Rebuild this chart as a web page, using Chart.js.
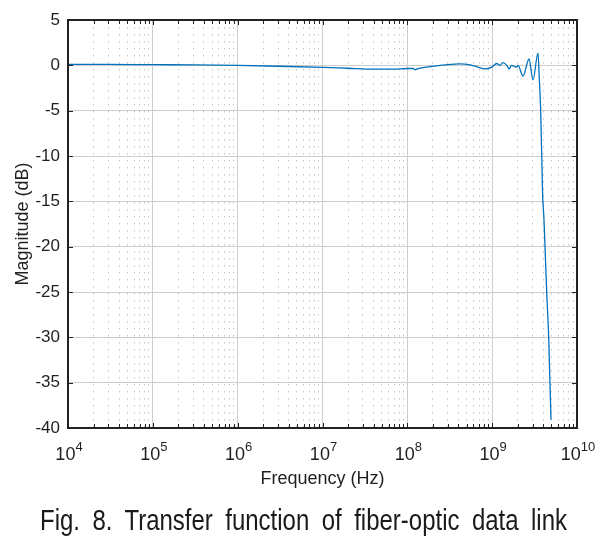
<!DOCTYPE html>
<html><head><meta charset="utf-8">
<script src="https://cdn.jsdelivr.net/npm/chart.js@4"></script>
<style>
html,body{margin:0;padding:0;background:#fff;}
#wrap{position:relative;width:605px;height:549px;overflow:hidden;}
#c{position:absolute;left:0;top:0;}
#cap{position:absolute;left:40px;top:503px;white-space:nowrap;font-family:"Liberation Sans",Arial,sans-serif;font-size:29px;line-height:34px;color:#1a1a1a;word-spacing:7px;transform-origin:0 0;}
</style></head><body>
<div id="wrap"><canvas id="c" width="605" height="549"></canvas><span id="cap">Fig. 8. Transfer function of fiber-optic data link</span></div>
<script>
const freqHz = [1e4, 3e4, 1e5, 3e5, 1e6, 3e6, 1e7, 2e7, 4e7, 7e7, 1.0e8, 1.17e8, 1.23e8, 1.34e8, 1.85e8, 2.78e8, 4.18e8, 5.48e8, 6.8e8, 8.24e8, 9.89e8, 1.13e9, 1.24e9, 1.33e9, 1.49e9, 1.58e9, 1.70e9, 1.81e9, 1.95e9, 2.02e9, 2.31e9, 2.72e9, 3.03e9, 3.47e9, 3.60e9, 3.73e9, 3.84e9, 3.94e9, 4.01e9, 4.08e9, 4.20e9, 4.40e9, 4.65e9, 4.81e9, 4.94e9];
const magDb = [0.1, 0.1, 0.07, 0.05, 0.0, -0.1, -0.22, -0.32, -0.42, -0.42, -0.35, -0.35, -0.5, -0.35, -0.15, 0.05, 0.17, 0.05, -0.2, -0.4, -0.2, 0.2, 0.0, 0.3, 0.0, -0.4, 0.0, -0.1, -0.2, 0.0, -1.2, 0.7, -1.6, 1.35, -1.6, -4.9, -10, -14.5, -15.8, -17, -20.1, -25.1, -30.3, -35.4, -39.1];
const xMajorTicks = [1e4, 1e5, 1e6, 1e7, 1e8, 1e9, 1e10];
const xTickBase = '10';
const xTickExp = ['4', '5', '6', '7', '8', '9', '10'];
const yTicks = [5, 0, -5, -10, -15, -20, -25, -30, -35, -40];
const xTitle = 'Frequency (Hz)';
const yTitle = 'Magnitude (dB)';

// all decade ticks 1..9 x 10^n
const xAllTicks = [];
for (let d = 0; d < xMajorTicks.length - 1; d++) {
  for (let k = 1; k <= 9; k++) xAllTicks.push({value: xMajorTicks[d] * k, major: k === 1});
}
xAllTicks.push({value: xMajorTicks[xMajorTicks.length - 1], major: true});

const textColor = '#1f1f1f';
const fontFam = '"Liberation Sans", Arial, sans-serif';

const boxPlugin = {
  id: 'box',
  afterDraw(chart) {
    const {ctx, chartArea: a, scales} = chart;
    ctx.save();
    ctx.strokeStyle = '#222';
    ctx.lineWidth = 1;
    ctx.beginPath();
    scales.x.ticks.forEach(t => {
      const px = Math.round(scales.x.getPixelForValue(t.value)) + 0.5;
      const len = t.major ? 5 : 4;
      ctx.moveTo(px, a.bottom); ctx.lineTo(px, a.bottom - len);
      ctx.moveTo(px, a.top); ctx.lineTo(px, a.top + len);
    });
    scales.y.ticks.forEach(t => {
      const py = Math.round(scales.y.getPixelForValue(t.value)) + 0.5;
      ctx.moveTo(a.left, py); ctx.lineTo(a.left + 5, py);
      ctx.moveTo(a.right, py); ctx.lineTo(a.right - 5, py);
    });
    ctx.stroke();
    ctx.lineWidth = 2;
    ctx.strokeRect(a.left, a.top, a.right - a.left, a.bottom - a.top);

    // x tick labels as base + raised exponent
    ctx.fillStyle = textColor;
    ctx.textBaseline = 'alphabetic';
    ctx.textAlign = 'left';
    const baseFont = '18px ' + fontFam;
    const expFont = '13px ' + fontFam;
    xMajorTicks.forEach((v, i) => {
      const px = scales.x.getPixelForValue(v);
      ctx.font = baseFont;
      const w1 = ctx.measureText(xTickBase).width;
      ctx.font = expFont;
      const w2 = ctx.measureText(xTickExp[i]).width;
      const x0 = px - (w1 + w2) / 2 + 1;
      ctx.font = baseFont;
      ctx.fillText(xTickBase, x0, a.bottom + 32);
      ctx.font = expFont;
      ctx.fillText(xTickExp[i], x0 + w1, a.bottom + 23);
    });
    ctx.restore();
  }
};

new Chart(document.getElementById('c'), {
  type: 'scatter',
  data: {
    datasets: [{
      data: freqHz.map((f, i) => ({x: f, y: magDb[i]})),
      showLine: true,
      borderColor: '#0072BD',
      borderWidth: 1.3,
      pointRadius: 0,
      cubicInterpolationMode: 'monotone',
      fill: false
    }]
  },
  options: {
    responsive: false,
    animation: false,
    devicePixelRatio: 1,
    layout: {padding: {top: 20, right: 28, bottom: 54, left: 8}},
    plugins: {legend: {display: false}, tooltip: {enabled: false}},
    scales: {
      x: {
        type: 'logarithmic',
        min: 1e4, max: 1e10,
        afterBuildTicks: s => { s.ticks = xAllTicks.map(t => ({value: t.value, major: t.major})); },
        afterFit: s => { s.height = 67; },
        ticks: {display: false, autoSkip: false, maxRotation: 0, minRotation: 0},
        grid: {
          drawTicks: false,
          color: ctx => (ctx.tick && ctx.tick.major) ? '#cdcdcd' : '#c4c4c4',
          lineWidth: 1
        },
        border: {display: false, dash: ctx => (ctx.tick && ctx.tick.major) ? [] : [1.5, 5.5]},
        title: {display: true, text: xTitle, color: textColor, font: {family: fontFam, size: 18}, padding: {top: 0, bottom: 5}}
      },
      y: {
        type: 'linear',
        min: -40, max: 5,
        afterBuildTicks: s => { s.ticks = yTicks.map(v => ({value: v})); },
        afterFit: s => { s.width = 60; },
        ticks: {padding: 8, color: textColor, font: {family: fontFam, size: 17}},
        grid: {drawTicks: false, color: '#cdcdcd', lineWidth: 1},
        border: {display: false},
        title: {display: true, text: yTitle, color: textColor, font: {family: fontFam, size: 18}, padding: {top: 4, bottom: 4}}
      }
    }
  },
  plugins: [boxPlugin]
});

const cap = document.getElementById('cap');
const w = cap.getBoundingClientRect().width;
cap.style.transform = 'scaleX(' + (527 / w) + ')';
</script>
</body></html>
